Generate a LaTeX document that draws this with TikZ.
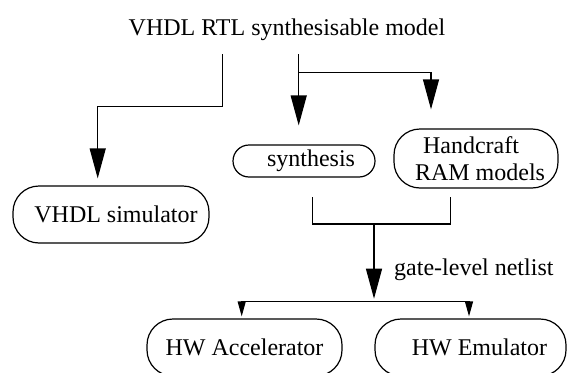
\documentclass[tikz,border=0pt]{standalone}
\usepackage{fontspec}
\setmainfont{Liberation Serif}
\usetikzlibrary{arrows.meta,calc}
\begin{document}
\begin{tikzpicture}[x=1pt,y=-1pt, font=\fontsize{24}{27}\selectfont,
  box/.style={draw, line width=1.2pt, inner sep=0pt, align=center, rounded corners=26pt},
  conn/.style={line width=1.2pt},
  big/.style={conn, -{Triangle[length=30pt,width=16pt]}},
  small/.style={conn, -{Triangle[length=15pt,width=8pt]}}]
\useasboundingbox (0,0) rectangle (567,372);
% nodes
\node[anchor=base, inner sep=0pt] (title) at (287,35) {VHDL RTL synthesisable model};
\node[box, minimum width=196pt, minimum height=57pt] (sim) at (111,214.5) {\hspace*{10pt}VHDL simulator};
\node[box, rounded corners=16pt, minimum width=142pt, minimum height=32pt] (syn) at (304,161) {\hspace*{14pt}synthesis};
\node[box, minimum width=164pt, minimum height=59pt] (ram) at (476,158.5) {\hspace*{-10pt}Handcraft\\\hspace*{8pt}RAM models};
\node[box, minimum width=195pt, minimum height=57pt] (acc) at (244.5,347.5) {HW Accelerator};
\node[box, minimum width=191pt, minimum height=57pt] (emu) at (470.5,347.5) {\hspace*{18pt}HW Emulator};
\node[anchor=base west, inner sep=0pt] (lbl) at (394,275) {gate-level netlist};
% connector points
\coordinate (s1) at (222.7,54);
\coordinate (k1) at (97.7,106.7);
\coordinate (s2) at (298.7,54);
\coordinate (k2) at (298.7,72.7);
\coordinate (k3) at (431,72.7);
\coordinate (b1) at (312.7,197);
\coordinate (b2) at (450.7,197);
\coordinate (bm) at (374,224);
\coordinate (hm) at (374,301.7);
\coordinate (h1) at (241.7,301.7);
\coordinate (h2) at (469,301.7);
% connectors
\draw[big, shorten >=7pt] (s1) |- (k1) -- (k1 |- sim.north);
\draw[big, shorten >=19pt] (s2) -- (s2 |- syn.north);
\draw[big, shorten >=19pt] (k2) -- (k3) -- (k3 |- ram.north);
\draw[conn] (b1) |- (bm) -| (b2);
\draw[big, shorten >=3pt] (bm) -- (hm);
\draw[small, shorten >=2pt] (hm) -| (h1 |- acc.north);
\draw[small, shorten >=2pt] (hm) -| (h2 |- emu.north);
\end{tikzpicture}
\end{document}
